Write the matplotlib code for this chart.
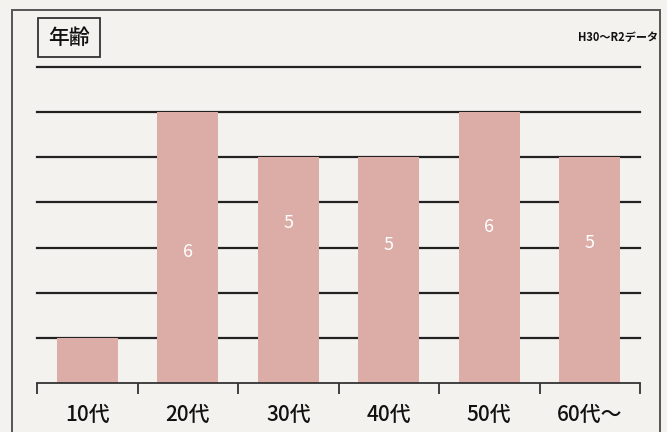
import matplotlib
matplotlib.use("Agg")
import matplotlib.pyplot as plt
from matplotlib.patches import Rectangle

plt.rcParams['font.family'] = ['Noto Sans CJK JP', 'DejaVu Sans']

categories = ['10代', '20代', '30代', '40代', '50代', '60代～']
values = [1, 6, 5, 5, 6, 5]
labels = ['', '6', '5', '5', '6', '5']
label_pos = [0.5, 2.9, 3.55, 3.05, 3.45, 3.1]
title = '年齢'
note = 'H30～R2データ'

W, H = 667, 432
fig = plt.figure(figsize=(W / 100, H / 100), dpi=100, facecolor='#f3f2ee')

# outer frame
fig.patches.append(Rectangle((12 / W, -0.05), (660 - 12) / W, (H - 10) / H + 0.05,
                             transform=fig.transFigure, fill=False,
                             edgecolor='#555555', linewidth=1.4))
# title box
fig.patches.append(Rectangle((38 / W, 1 - 57 / H), 62 / W, 39 / H,
                             transform=fig.transFigure, fill=False,
                             edgecolor='#333333', linewidth=1.3))
fig.text(69 / W, 1 - 38 / H, title, ha='center', va='center',
         fontsize=15, fontweight='medium', color='#111111')
fig.text(658 / W, 1 - 38 / H, note, ha='right', va='center',
         fontsize=8, fontweight='bold', color='#111111')

ax = fig.add_axes([37 / W, 1 - 383 / H, (640 - 37) / W, (383 - 67) / H])
ax.set_facecolor('none')
x = range(len(categories))
ax.bar(x, values, width=0.61, color='#dcaca6', zorder=2)
for xi, lab, yp in zip(x, labels, label_pos):
    if lab:
        ax.text(xi, yp, lab, ha='center', va='center', color='white',
                fontsize=13, zorder=3)

ax.set_xlim(-0.5, len(categories) - 0.5)
ax.set_ylim(0, 7)
ax.set_yticks(range(1, 8))
ax.yaxis.grid(True, color='#222222', linewidth=1.6, zorder=1)
for gl in ax.get_ygridlines():
    gl.set_clip_on(False)
ax.tick_params(axis='y', left=False, labelleft=False)
for s in ['left', 'right', 'top']:
    ax.spines[s].set_visible(False)
ax.spines['bottom'].set_color('#333333')
ax.spines['bottom'].set_linewidth(1.3)

ax.set_xticks([i - 0.5 for i in range(len(categories) + 1)], minor=False)
ax.set_xticklabels([])
ax.tick_params(axis='x', which='major', direction='out', length=8, width=1.3, color='#333333')
ax.set_xticks(list(x), minor=True)
ax.set_xticklabels(categories, minor=True, fontsize=15, fontweight='medium', color='#111111')
ax.tick_params(axis='x', which='minor', length=0, pad=15)

fig.savefig('out.png', dpi=100, facecolor=fig.get_facecolor())
